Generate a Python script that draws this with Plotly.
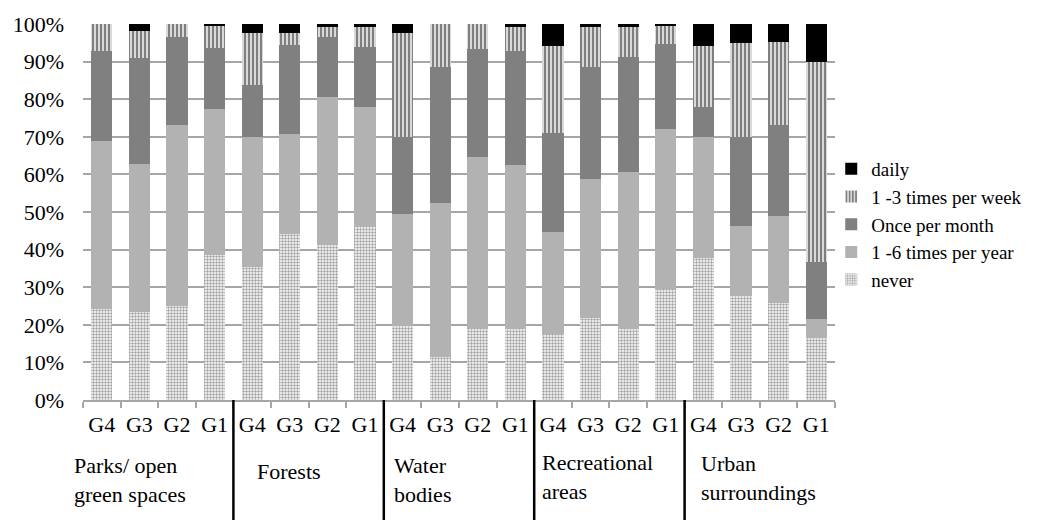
import plotly.graph_objects as go

groups = ["Parks/ open<br>green spaces", "Forests", "Water<br>bodies", "Recreational<br>areas", "Urban<br>surroundings"]
bar_labels = ["G4", "G3", "G2", "G1"] * 5

never = [24.2, 23.5, 25.1, 38.6, 35.5, 44.1, 41.2, 46.3, 19.7, 11.4, 18.9, 18.9, 17.5, 21.7, 18.8, 29.4, 37.9, 27.7, 25.9, 16.6]
per_year = [44.7, 39.3, 48.0, 38.7, 34.5, 26.6, 39.3, 31.5, 29.7, 40.9, 45.8, 43.5, 27.1, 37.0, 41.8, 42.6, 32.1, 18.7, 23.1, 4.9]
per_month = [24.0, 28.1, 23.5, 16.2, 13.8, 23.7, 16.1, 16.0, 20.6, 36.2, 28.7, 30.4, 26.5, 29.8, 30.5, 22.6, 8.0, 23.6, 24.1, 15.3]
per_week = [7.1, 7.2, 3.4, 6.0, 13.9, 3.3, 2.5, 5.3, 27.5, 11.5, 6.6, 6.5, 23.0, 10.6, 8.0, 4.9, 16.1, 25.0, 22.2, 53.0]
daily = [0, 1.9, 0, 0.5, 2.3, 2.3, 0.9, 0.9, 2.5, 0, 0, 0.7, 5.9, 0.9, 0.9, 0.5, 5.9, 5.0, 4.7, 10.2]

series_names = ["never", "1 -6 times per year", "Once per month", "1 -3 times per week", "daily"]
series_values = [never, per_year, per_month, per_week, daily]

FONT = "Liberation Serif, serif"
xpos = list(range(len(bar_labels)))

styles = [
    dict(color="#ffffff", pattern=dict(shape=".", size=3, solidity=0.5, fgcolor="#444444", bgcolor="#ffffff")),
    dict(color="#b2b2b2"),
    dict(color="#808080"),
    dict(color="#ffffff", pattern=dict(shape="|", size=4, solidity=0.65, fgcolor="#000000", bgcolor="#ffffff")),
    dict(color="#000000"),
]

fig = go.Figure()
for name, vals, st in zip(series_names, series_values, styles):
    fig.add_trace(go.Bar(x=xpos, y=vals, name=name,
                         marker=dict(line=dict(width=0), **st)))

# page body adds an 8px margin, so the figure is 8px smaller than the window
fig.update_layout(
    barmode="stack", bargap=0.44,
    width=1040, height=512,
    margin=dict(l=75, r=213, t=16, b=120, autoexpand=False),
    paper_bgcolor="white", plot_bgcolor="white",
    font=dict(family=FONT, size=22, color="black"),
    legend=dict(x=0.995, xanchor="left", y=0.665, yanchor="top",
                traceorder="reversed",
                font=dict(family=FONT, size=19), bgcolor="rgba(0,0,0,0)"),
    showlegend=True,
)
fig.update_yaxes(range=[0, 100], dtick=10, ticksuffix="%", showgrid=True,
                 gridcolor="#a6a6a6", gridwidth=1.5, zeroline=False, showline=False,
                 ticks="", ticklabelstandoff=18, tickfont=dict(family=FONT, size=22))
fig.update_xaxes(range=[-0.5, 19.5], tickmode="array", tickvals=xpos, ticktext=bar_labels,
                 ticks="", showgrid=False, zeroline=False, showline=True, linecolor="#a6a6a6",
                 linewidth=1.5, tickfont=dict(family=FONT, size=22), ticklabelstandoff=4,
                 minor=dict(tickmode="array", tickvals=[i - 0.5 for i in range(21)],
                            ticks="outside", ticklen=6, tickcolor="#a6a6a6", tickwidth=1.5,
                            showgrid=False))

for k in range(1, 5):
    fig.add_shape(type="line", xref="x", yref="paper", x0=4 * k - 0.5, x1=4 * k - 0.5,
                  y0=0, y1=-0.33, line=dict(color="black", width=2.5))

label_x = [-0.0146, 0.229, 0.411, 0.608, 0.819]
label_y = [-0.212, -0.19, -0.212, -0.204, -0.208]
for txt, lx, ly in zip(groups, label_x, label_y):
    fig.add_annotation(text=txt, xref="paper", yref="paper", x=lx, y=ly, xanchor="left",
                       yanchor="middle", align="left", showarrow=False,
                       font=dict(size=22, family=FONT, color="black"))

fig.write_html("out.html")
